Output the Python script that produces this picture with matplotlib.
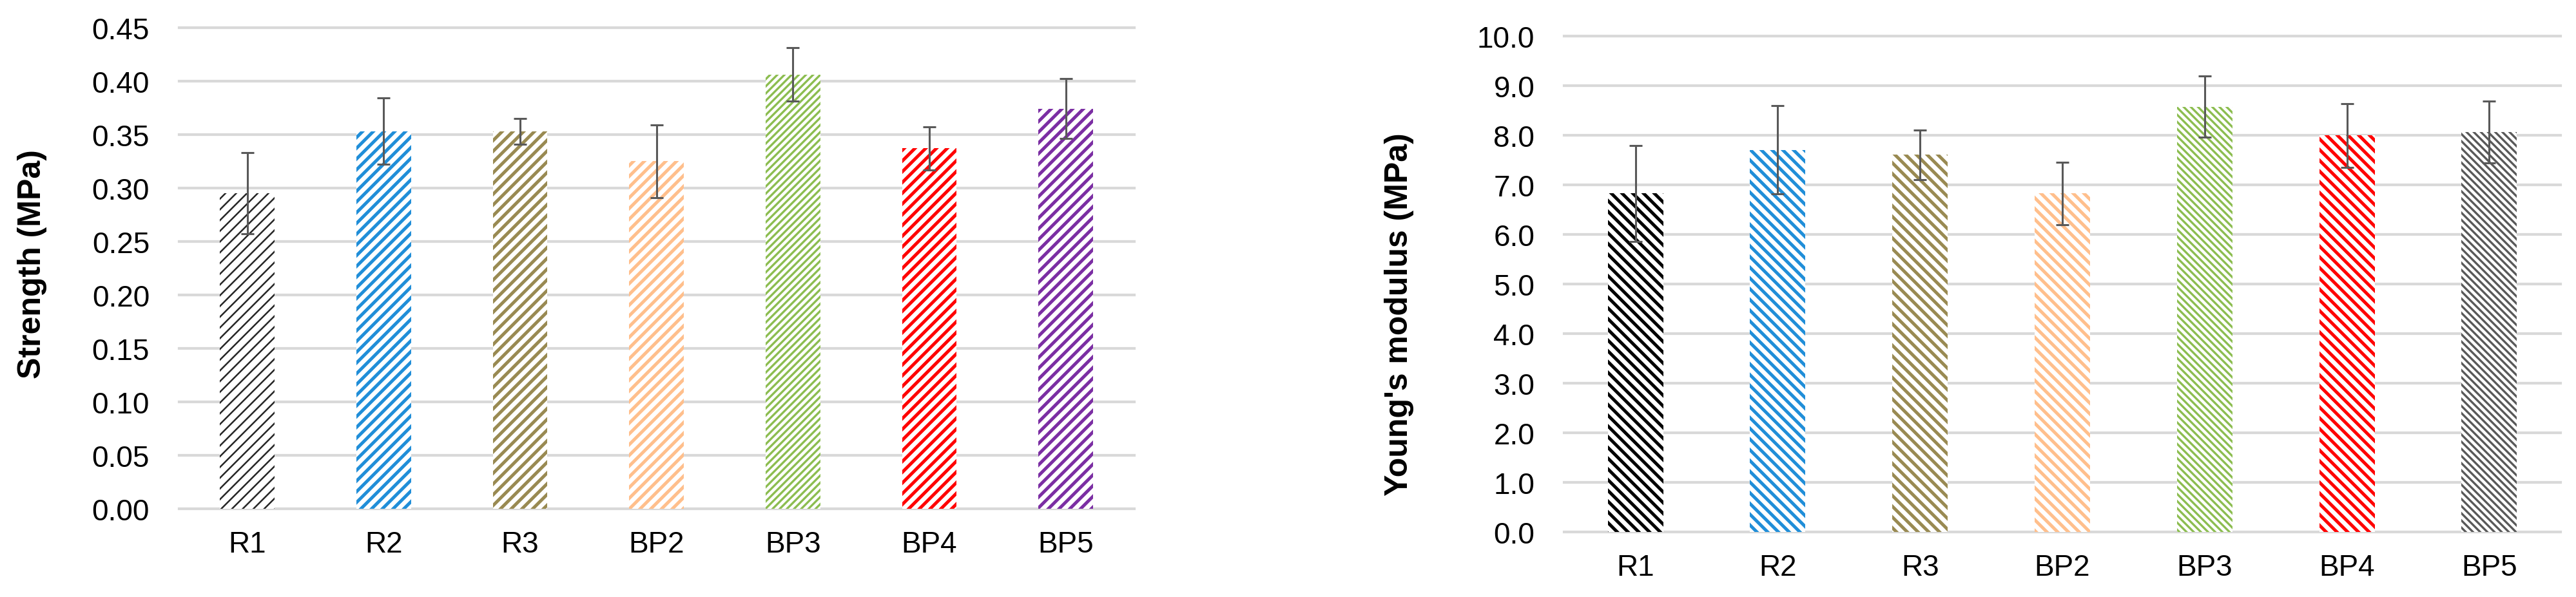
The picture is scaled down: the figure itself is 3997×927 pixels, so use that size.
import matplotlib
matplotlib.use('Agg')
import matplotlib.pyplot as plt
import numpy as np

plt.rcParams['font.family'] = ['Liberation Sans', 'DejaVu Sans']

samples = ['R1', 'R2', 'R3', 'BP2', 'BP3', 'BP4', 'BP5']

strength = [0.295, 0.353, 0.353, 0.325, 0.406, 0.337, 0.374]
strength_err = [0.038, 0.031, 0.012, 0.034, 0.025, 0.020, 0.028]

modulus = [6.83, 7.71, 7.61, 6.83, 8.58, 8.00, 8.07]
modulus_err = [0.97, 0.89, 0.50, 0.63, 0.62, 0.64, 0.62]

left_colors = ['#262626', '#208ED8', '#998A52', '#FFBF8C', '#8CBD50', '#FF0000', '#7B2EA3']
right_colors = ['#000000', '#208ED8', '#998A52', '#FFBF8C', '#8CBD50', '#FF0000', '#595959']

# hatch pattern + hatch line width (pt) per bar
left_hatches = [('//', 1.8), ('//', 3.6), ('//', 3.6), ('//', 3.6), ('///', 2.4), ('//', 3.6), ('//', 3.6)]
right_hatches = [('\\\\', 3.6), ('\\\\', 3.6), ('\\\\', 3.6), ('\\\\', 3.6), ('\\\\\\', 2.4),
                 ('\\\\', 3.6), ('\\\\\\', 2.4)]

GRID = '#D9D9D9'
ERR = '#595959'


def draw_panel(ax, values, errs, colors, hatches, ticks, fmt, ylabel, bar_w):
    x = np.arange(len(samples))
    for t in ticks:
        ax.axhline(t, color=GRID, linewidth=3.0, zorder=0.5, clip_on=False)

    for xi, v, c, (h, lw) in zip(x, values, colors, hatches):
        with plt.rc_context({'hatch.linewidth': lw}):
            bars = ax.bar(xi, v, width=bar_w, facecolor='white', edgecolor=c,
                          linewidth=0, hatch=h, zorder=2)
        for p in bars:
            if hasattr(p, 'set_hatch_linewidth'):
                p.set_hatch_linewidth(lw)

    ax.errorbar(x, values, yerr=errs, fmt='none', ecolor=ERR, elinewidth=2.2,
                capsize=7.5, capthick=2.2, zorder=3)

    ax.set_xlim(-0.5, len(samples) - 0.5)
    ax.set_ylim(ticks[0], ticks[-1])
    ax.set_yticks(ticks)
    ax.set_yticklabels([fmt.format(t) for t in ticks])
    ax.set_xticks(x)
    ax.set_xticklabels(samples)
    ax.tick_params(axis='y', length=0, pad=33, labelsize=33, colors='black')
    ax.tick_params(axis='x', length=0, pad=24, labelsize=33, colors='black')
    for s in ax.spines.values():
        s.set_visible(False)
    ax.set_ylabel(ylabel, fontsize=36, fontweight='bold')
    ax.yaxis.label.set_verticalalignment('center')
    return ax


fig = plt.figure(figsize=(39.98, 9.28), dpi=100)

ax1 = fig.add_axes([0.0695, 0.1481, 0.3706, 0.8047])
draw_panel(ax1, strength, strength_err, left_colors, left_hatches,
           np.round(np.arange(0, 0.451, 0.05), 2), '{:.2f}', 'Strength (MPa)', 0.40)
ax1.yaxis.set_label_coords(-0.154, 0.51)

ax2 = fig.add_axes([0.6071, 0.1088, 0.3866, 0.8293])
draw_panel(ax2, modulus, modulus_err, right_colors, right_hatches,
           np.arange(0, 10.01, 1.0), '{:.1f}', "Young's modulus (MPa)", 0.39)
ax2.yaxis.set_label_coords(-0.1656, 0.44)

fig.savefig('out.png', dpi=100, facecolor='white')
